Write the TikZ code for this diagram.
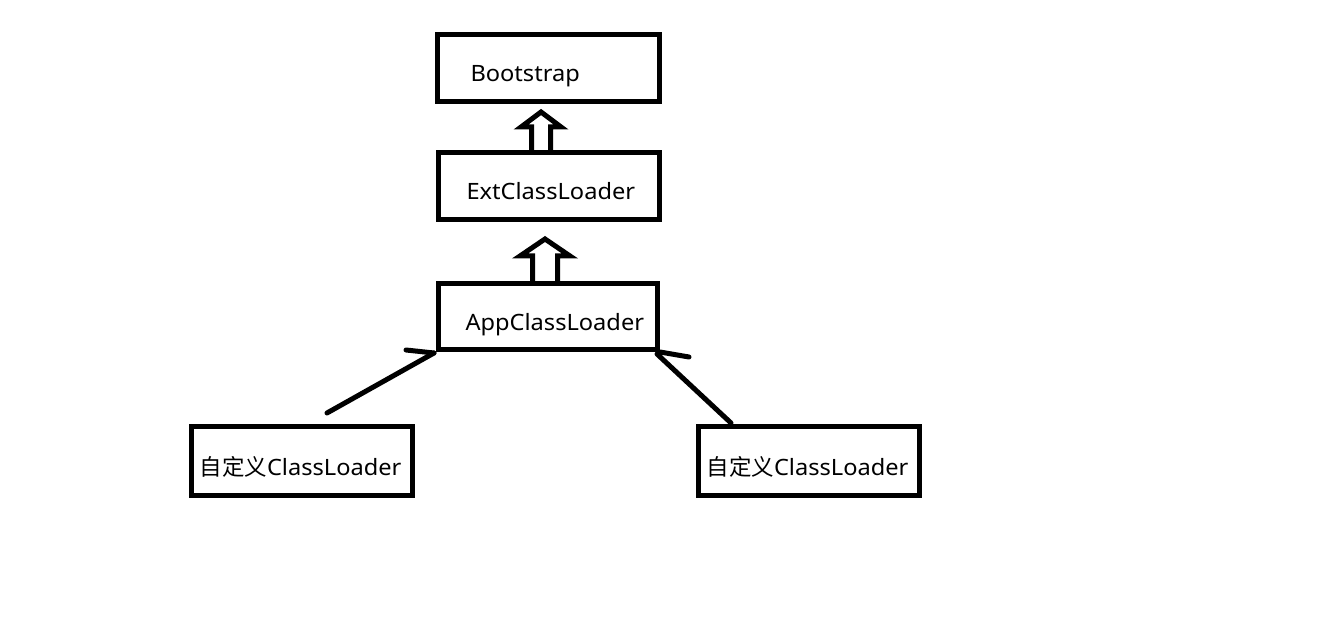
\documentclass[tikz,border=0pt]{standalone}
\usepackage{fontspec}
\setmainfont{Noto Sans}[FakeStretch=1.05]
\newfontfamily\cjk{Noto Sans CJK SC}
\usetikzlibrary{calc}
\begin{document}
\begin{tikzpicture}[x=1pt,y=-1pt,
  box/.style={draw, line width=5pt, inner xsep=0pt, inner ysep=0pt,
    align=left, text height=28pt, text depth=0pt,
    font=\fontsize{22.5}{26}\selectfont},
  conn/.style={line width=5pt, line cap=round},
  hollow/.style={line width=5pt, line join=miter}]
\useasboundingbox[fill=white] (0,0) rectangle (1341,644);

\node[box, text width=222pt, minimum height=67pt] (boot) at (548.5,68) {\hspace*{33pt}Bootstrap};
\node[box, text width=221pt, minimum height=67pt] (ext) at (549,186) {\hspace*{28pt}ExtClassLoader};
\node[box, text width=219pt, minimum height=66pt] (app) at (548,316.5) {\hspace*{27pt}AppClassLoader};
\node[box, text width=221pt, minimum height=69pt] (c1) at (302,461) {\hspace*{8pt}{\cjk\fontsize{22.5}{26}\selectfont 自定义}ClassLoader};
\node[box, text width=221pt, minimum height=69pt] (c2) at (809,461) {\hspace*{8pt}{\cjk\fontsize{22.5}{26}\selectfont 自定义}ClassLoader};

% hollow arrows
\draw[hollow, shift={([xshift=-8pt]ext.north)}]
  (-9.5,0) -- (-9.5,-23) -- (-20,-23) -- (0,-38) -- (20,-23) -- (9.5,-23) -- (9.5,0);
\draw[hollow, shift={([xshift=-3pt]app.north)}]
  (-12.5,0) -- (-12.5,-25) -- (-25,-25) -- (0,-42) -- (25,-25) -- (12.5,-25) -- (12.5,0);

% connectors to custom loaders
\coordinate (l1) at (327,413);
\coordinate (t1) at (406,350);
\coordinate (r1) at (731,423);
\coordinate (t2) at (689,357);
\draw[conn] ([xshift=-2pt,yshift=-1pt]app.south west) -- (l1);
\draw[conn] (t1) -- ([xshift=-2pt,yshift=-1pt]app.south west);
\draw[conn] ([xshift=-3pt,yshift=-2pt]app.south east) -- (r1);
\draw[conn] (app.south east) -- (t2);
\end{tikzpicture}
\end{document}
